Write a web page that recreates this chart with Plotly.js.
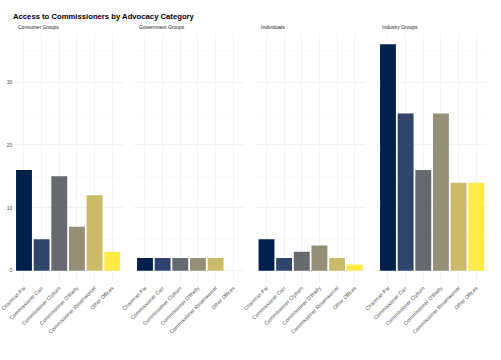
<!DOCTYPE html>
<html><head><meta charset="utf-8">
<script src="https://cdn.plot.ly/plotly-3.0.1.min.js"></script>
<style>html,body{margin:0;padding:0;background:#fff}#chart{width:501px;height:360px}</style>
</head><body><div id="chart"></div>
<script>
var categories = ["Chairman Pai","Commissioner Carr","Commissioner Clyburn","Commissioner O'Rielly","Commissioner Rosenworcel","Other Offices"];
var panels = ["Consumer Groups","Government Groups","Individuals","Industry Groups"];
var consumerGroups = [16,5,15,7,12,3];
var governmentGroups = [2,2,2,2,2,0];
var individuals = [5,2,3,4,2,1];
var industryGroups = [36,25,16,25,14,14];
var colors = ["#00204D","#31446B","#666970","#958F78","#CBBA69","#FFEA46"];
var yTicks = [0,10,20,30];

var series = [consumerGroups, governmentGroups, individuals, industryGroups];
var W = 501, H = 360;
var xpix = [[13.4,122.8],[134.4,243.8],[255.9,365.3],[377.4,486.8]];
var ytop = 33, ybot = 282;
var traces = [], layout = {
  width: W, height: H, margin:{l:0,r:0,t:0,b:0}, showlegend:false,
  paper_bgcolor:"#fff", plot_bgcolor:"#fff", bargap:0.1,
  font:{family:"Liberation Sans, Arial, sans-serif", color:"#4D4D4D"},
  title:{text:"<b>Access to Commissioners by Advocacy Category</b>", x:13/W, xref:"paper", xanchor:"left", y:1-16/H, yref:"paper", yanchor:"middle", font:{size:7.7, color:"#000"}},
  annotations:[]
};
for (var i=0;i<4;i++){
  var s = i===0 ? "" : String(i+1);
  traces.push({type:"bar", x:categories, y:series[i], xaxis:"x"+s, yaxis:"y"+s,
    marker:{color:colors, line:{width:0}}, hoverinfo:"x+y"});
  layout["xaxis"+s] = {domain:[xpix[i][0]/W, xpix[i][1]/W], anchor:"y"+s, type:"category",
    range:[-0.6,5.6], tickangle:-45, tickfont:{size:5.2, color:"#4D4D4D"}, ticklabelstandoff:1, showgrid:true,
    gridcolor:"#EBEBEB", gridwidth:0.6, zeroline:false, showline:false, ticks:"", fixedrange:true};
  layout["yaxis"+s] = {domain:[1-ybot/H, 1-ytop/H], anchor:"x"+s, range:[-1.8,37.8],
    tickvals:yTicks, showticklabels:i===0, tickfont:{size:5, color:"#4D4D4D"},
    showgrid:true, gridcolor:"#EBEBEB", gridwidth:0.6, zeroline:false, showline:false, ticks:"",
    minor:{dtick:5, tick0:0, showgrid:true, gridcolor:"#F3F3F3", gridwidth:0.4}, fixedrange:true};
  layout.annotations.push({text:panels[i], xref:"paper", yref:"paper", x:(xpix[i][0]+3)/W, y:1-27/H,
    xanchor:"left", yanchor:"middle", showarrow:false, font:{size:5, color:"#1A1A1A"}});
}
Plotly.newPlot("chart", traces, layout, {displayModeBar:false, staticPlot:true});
</script></body></html>
